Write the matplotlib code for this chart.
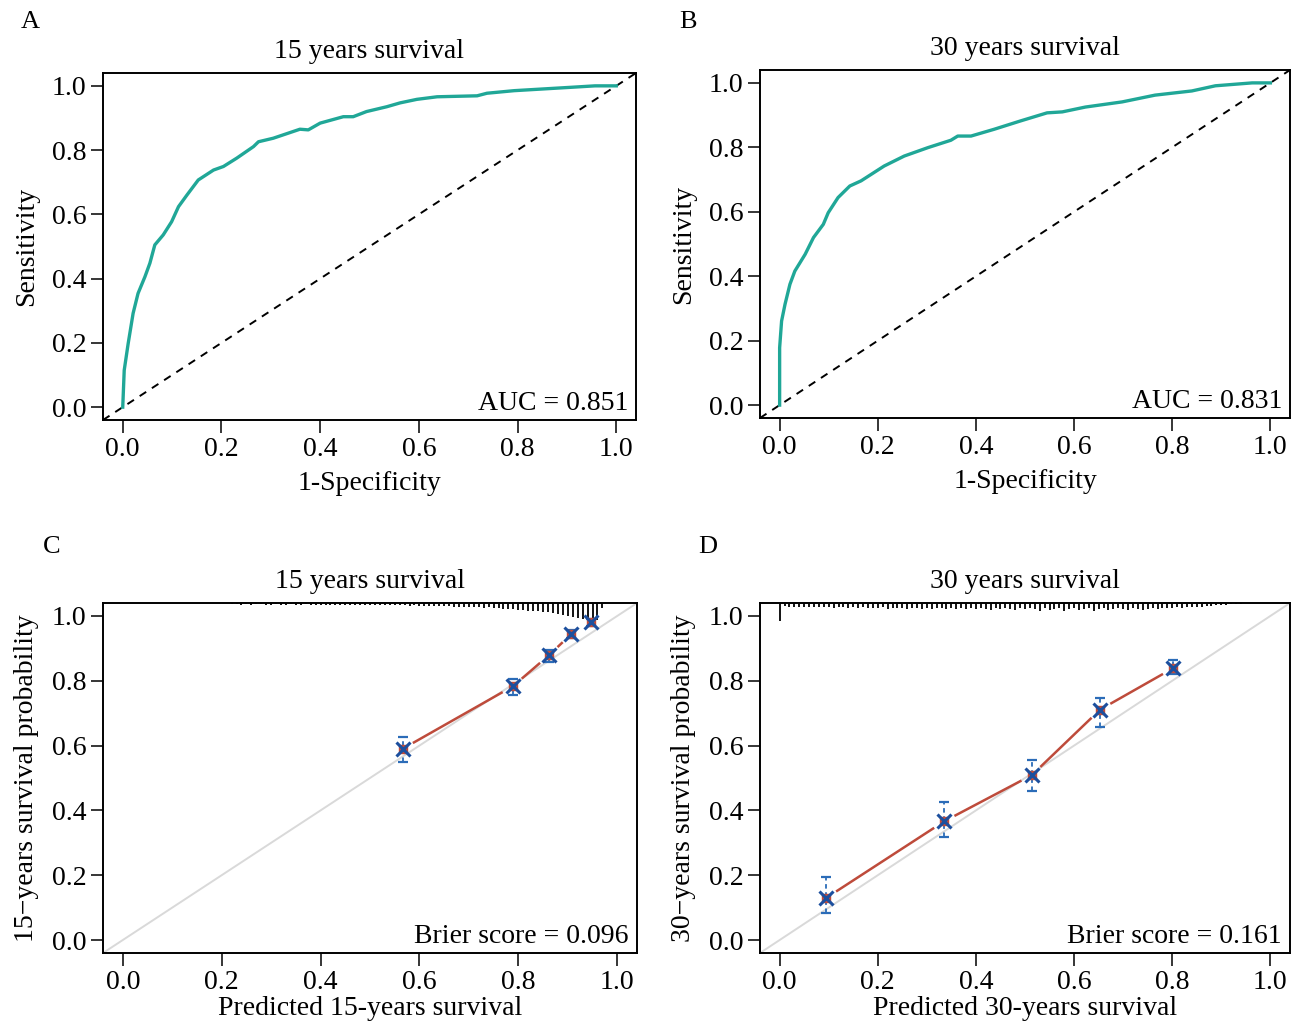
import numpy as np
import matplotlib.pyplot as plt

plt.rcParams['font.family'] = ['Liberation Serif', 'DejaVu Serif']
plt.rcParams['font.size'] = 20

# ROC curve, 15 years
fpr_15 = [0.0, 0.003, 0.011, 0.021, 0.031, 0.045, 0.055, 0.065, 0.082, 0.099, 0.113, 0.13,
          0.153, 0.184, 0.204, 0.231, 0.265, 0.275, 0.305, 0.359, 0.376, 0.4, 0.447, 0.467,
          0.494, 0.535, 0.562, 0.596, 0.637, 0.718, 0.738, 0.793, 0.848, 0.903, 0.957, 1.0]
tpr_15 = [0.0, 0.115, 0.198, 0.292, 0.354, 0.406, 0.448, 0.505, 0.536, 0.577, 0.624, 0.66,
          0.707, 0.738, 0.749, 0.775, 0.811, 0.826, 0.837, 0.865, 0.863, 0.884, 0.904, 0.904,
          0.92, 0.935, 0.947, 0.958, 0.966, 0.969, 0.977, 0.985, 0.99, 0.995, 1.0, 1.0]

# ROC curve, 30 years
fpr_30 = [0.0, 0.0, 0.004, 0.011, 0.021, 0.031, 0.052, 0.069, 0.089, 0.099, 0.119, 0.143,
          0.166, 0.213, 0.254, 0.302, 0.349, 0.363, 0.39, 0.437, 0.491, 0.545, 0.576, 0.623,
          0.698, 0.765, 0.84, 0.888, 0.963, 1.0]
tpr_30 = [0.0, 0.178, 0.261, 0.313, 0.375, 0.416, 0.468, 0.52, 0.561, 0.597, 0.644, 0.68,
          0.696, 0.742, 0.773, 0.799, 0.822, 0.835, 0.835, 0.856, 0.882, 0.907, 0.91, 0.925,
          0.941, 0.962, 0.975, 0.991, 1.0, 1.0]

auc_15 = 0.851
auc_30 = 0.831

# calibration, 15 years
pred_15 = [0.566, 0.789, 0.862, 0.907, 0.947]
obs_15 = [0.59, 0.783, 0.879, 0.944, 0.981]
lo_15 = [0.55, 0.755, 0.857, 0.932, 0.969]
hi_15 = [0.627, 0.807, 0.894, 0.957, 0.99]

# calibration, 30 years
pred_30 = [0.095, 0.335, 0.514, 0.653, 0.802]
obs_30 = [0.13, 0.366, 0.509, 0.711, 0.839]
lo_30 = [0.084, 0.317, 0.46, 0.658, 0.82]
hi_30 = [0.193, 0.425, 0.556, 0.748, 0.863]

brier_15 = 0.096
brier_30 = 0.161

# distribution of predicted risk (rug at the top), relative heights
rug_x_15 = np.round(np.arange(0.22, 0.975, 0.01), 2)
rug_h_15 = [0.08, 0.08, 0.1, 0.08, 0.1, 0.08, 0.08, 0.1,
            0.1, 0.08, 0.1, 0.1, 0.08, 0.1, 0.1, 0.08, 0.1, 0.1,
            0.1, 0.1, 0.12, 0.1, 0.12, 0.1, 0.12, 0.12, 0.1, 0.12,
            0.12, 0.13, 0.12, 0.13, 0.13, 0.12, 0.13, 0.13, 0.15, 0.13,
            0.15, 0.17, 0.15, 0.17, 0.18, 0.17, 0.18, 0.2, 0.2, 0.2,
            0.22, 0.25, 0.25, 0.27, 0.25, 0.3, 0.3, 0.32, 0.33, 0.35,
            0.37, 0.4, 0.43, 0.43, 0.47, 0.5, 0.53, 0.55, 0.62, 0.68,
            0.72, 0.78, 0.82, 0.88, 0.93, 1.0, 0.95, 0.3]
rug_x_30 = np.round(np.arange(0.0, 0.945, 0.01), 2)
rug_h_30 = [1.0, 0.15, 0.2, 0.2, 0.25, 0.2, 0.25, 0.25, 0.2, 0.25,
            0.25, 0.3, 0.25, 0.25, 0.3, 0.25, 0.3, 0.25, 0.3, 0.3,
            0.3, 0.25, 0.35, 0.3, 0.3, 0.3, 0.35, 0.3, 0.3, 0.35,
            0.3, 0.35, 0.3, 0.3, 0.35, 0.3, 0.35, 0.3, 0.35, 0.3,
            0.35, 0.3, 0.35, 0.4, 0.3, 0.35, 0.3, 0.35, 0.4, 0.3,
            0.35, 0.3, 0.35, 0.45, 0.3, 0.4, 0.35, 0.3, 0.45, 0.35,
            0.3, 0.4, 0.35, 0.3, 0.45, 0.35, 0.3, 0.4, 0.35, 0.3,
            0.35, 0.4, 0.3, 0.35, 0.4, 0.35, 0.3, 0.35, 0.3, 0.3,
            0.3, 0.25, 0.3, 0.25, 0.25, 0.2, 0.2, 0.15, 0.15, 0.12,
            0.1, 0.1, 0.08, 0.06, 0.05]

ticks = [0.0, 0.2, 0.4, 0.6, 0.8, 1.0]
teal = '#20A797'
red = '#BE4B3B'
blue = '#2B6CB8'
navy = '#1C4F9E'

fig = plt.figure(figsize=(13.04, 10.26), dpi=100)
W, H = 1304, 1026


def box(l, t, r, b):
    return [l / W, 1 - b / H, (r - l) / W, (b - t) / H]


def style(ax, title, xlabel, ylabel, xpad):
    ax.set_xlim(-0.04, 1.04)
    ax.set_ylim(-0.04, 1.04)
    ax.set_xticks(ticks)
    ax.set_yticks(ticks)
    ax.set_xticklabels(['%.1f' % t for t in ticks])
    ax.set_yticklabels(['%.1f' % t for t in ticks])
    ax.tick_params(direction='out', length=9, width=1.1, pad=3, labelsize=20)
    for s in ax.spines.values():
        s.set_linewidth(1.4)
    ax.set_title(title, fontsize=20, pad=11)
    ax.set_xlabel(xlabel, fontsize=20, labelpad=xpad)
    ax.set_ylabel(ylabel, fontsize=20, labelpad=9)


def roc_panel(ax, fpr, tpr, auc, title):
    style(ax, title, '1-Specificity', 'Sensitivity', 7)
    ax.axline((0, 0), (1, 1), color='black', lw=1.4, ls=(0, (4, 3.5)))
    ax.plot(fpr, tpr, color=teal, lw=2.4, solid_joinstyle='round')
    ax.text(0.985, 0.012, 'AUC = %.3f' % auc, transform=ax.transAxes,
            ha='right', va='bottom', fontsize=20)


def calib_panel(ax, pred, obs, lo, hi, rx, rh, brier, title, years):
    style(ax, title, 'Predicted %d-years survival' % years,
          '%d\u2212years survival probability' % years, 1)
    ax.axline((0, 0), (1, 1), color='#D9D9D9', lw=1.4)
    ax.vlines(rx, 1.04 - 0.055 * np.array(rh), 1.04, color='black', lw=1.3)
    # line with gaps around the points (R type = "b")
    fig.canvas.draw()
    pts = ax.transData.transform(np.column_stack([pred, obs]))
    inv = ax.transData.inverted()
    gap = 13
    for p0, p1 in zip(pts[:-1], pts[1:]):
        d = p1 - p0
        L = np.hypot(*d)
        if L <= 2 * gap:
            continue
        u = d / L
        a = inv.transform(p0 + u * gap)
        b = inv.transform(p1 - u * gap)
        ax.plot([a[0], b[0]], [a[1], b[1]], color=red, lw=1.8)
    yerr = [np.array(obs) - np.array(lo), np.array(hi) - np.array(obs)]
    eb = ax.errorbar(pred, obs, yerr=yerr, fmt='none', ecolor=blue,
                     elinewidth=1.3, capsize=3.5, capthick=1.6)
    eb[2][0].set_linestyle((0, (2.5, 2)))
    ax.plot(pred, obs, 's', color=red, ms=6, mec=red)
    ax.plot(pred, obs, 'x', color=navy, ms=10, mew=2.2)
    ax.text(0.985, 0.012, 'Brier score = %.3f' % brier, transform=ax.transAxes,
            ha='right', va='bottom', fontsize=20)


axA = fig.add_axes(box(103, 73, 636, 420))
axB = fig.add_axes(box(760, 70, 1290, 418))
axC = fig.add_axes(box(103, 603, 637, 953))
axD = fig.add_axes(box(760, 603, 1290, 953))

roc_panel(axA, fpr_15, tpr_15, auc_15, '15 years survival')
roc_panel(axB, fpr_30, tpr_30, auc_30, '30 years survival')
calib_panel(axC, pred_15, obs_15, lo_15, hi_15, rug_x_15, rug_h_15, brier_15,
            '15 years survival', 15)
calib_panel(axD, pred_30, obs_30, lo_30, hi_30, rug_x_30, rug_h_30, brier_30,
            '30 years survival', 30)

for letter, x, y in [('A', 30, 22), ('B', 688, 22), ('C', 52, 547), ('D', 708, 547)]:
    fig.text(x / W, 1 - y / H, letter, ha='center', va='center', fontsize=19)

fig.savefig('out.png', dpi=100)
